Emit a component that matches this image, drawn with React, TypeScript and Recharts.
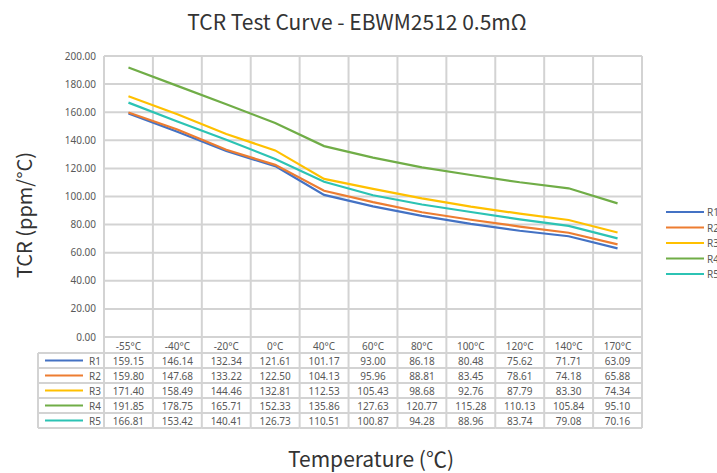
import React from "react";
import { LineChart, Line, XAxis, YAxis, CartesianGrid } from "recharts";

const categories = ["-55°C", "-40°C", "-20°C", "0°C", "40°C", "60°C", "80°C", "100°C", "120°C", "140°C", "170°C"];
const seriesNames = ["R1", "R2", "R3", "R4", "R5"];
const r1 = [159.15, 146.14, 132.34, 121.61, 101.17, 93.0, 86.18, 80.48, 75.62, 71.71, 63.09];
const r2 = [159.8, 147.68, 133.22, 122.5, 104.13, 95.96, 88.81, 83.45, 78.61, 74.18, 65.88];
const r3 = [171.4, 158.49, 144.46, 132.81, 112.53, 105.43, 98.68, 92.76, 87.79, 83.3, 74.34];
const r4 = [191.85, 178.75, 165.71, 152.33, 135.86, 127.63, 120.77, 115.28, 110.13, 105.84, 95.1];
const r5 = [166.81, 153.42, 140.41, 126.73, 110.51, 100.87, 94.28, 88.96, 83.74, 79.08, 70.16];
const seriesValues = [r1, r2, r3, r4, r5];
const yTicks = [0, 20, 40, 60, 80, 100, 120, 140, 160, 180, 200];

const colors = ["#4472C4", "#ED7D31", "#FFC000", "#70AD47", "#2CC3B4"];

const W = 717;
const H = 473;
const PLOT_L = 104;
const PLOT_R = 642;
const PLOT_T = 56;
const PLOT_B = 337;
const HEAD_H = 16;
const ROW_H = 15;
const TABLE_L = 38;
const TABLE_B = PLOT_B + HEAD_H + ROW_H * seriesNames.length;
const GRID = "#d3d3d3";
const TXT = "#595959";
const FONT = "'Noto Sans', sans-serif";
const TITLE_FONT = "'Noto Sans CJK SC', 'Noto Sans', sans-serif";

const data = categories.map((c, i) => {
  const row: Record<string, number | string> = { x: i + 0.5, cat: c };
  seriesNames.forEach((n, k) => (row[n] = seriesValues[k][i]));
  return row;
});
const xTicks = categories.map((_, i) => i).concat(categories.length);

// x-axis tick draws one column of the data table under the plot
function TableTick(props: any) {
  const { x, payload } = props;
  const i = payload.value as number;
  const colW = (PLOT_R - PLOT_L) / categories.length;
  const vline = <line x1={x} x2={x} y1={PLOT_B} y2={TABLE_B} stroke={GRID} strokeWidth={2} />;
  if (i >= categories.length) return <g>{vline}</g>;
  const cx = x + colW / 2;
  return (
    <g>
      {vline}
      <text x={cx} y={PLOT_B + HEAD_H / 2 + 0.5} textAnchor="middle" dominantBaseline="central" fontSize={10} fill={TXT} fontFamily={FONT}>
        {categories[i]}
      </text>
      {seriesValues.map((vals, k) => {
        const top = PLOT_B + HEAD_H + k * ROW_H;
        return (
          <g key={k}>
            <line x1={x} x2={x + colW} y1={top} y2={top} stroke={GRID} strokeWidth={2} />
            <text x={cx} y={top + ROW_H / 2} textAnchor="middle" dominantBaseline="central" fontSize={10} fill={TXT} fontFamily={FONT}>
              {vals[i].toFixed(2)}
            </text>
          </g>
        );
      })}
      <line x1={x} x2={x + colW} y1={TABLE_B} y2={TABLE_B} stroke={GRID} strokeWidth={2} />
    </g>
  );
}

export default function App() {
  return (
    <div style={{ position: "absolute", left: 0, top: 0, width: W, height: H, background: "#fff" }}>
      <LineChart
        width={W}
        height={H}
        data={data}
        margin={{ top: PLOT_T, right: W - PLOT_R, bottom: H - PLOT_B - 92, left: PLOT_L - 60 }}
      >
        <CartesianGrid stroke={GRID} strokeWidth={2} horizontal vertical />
        <XAxis
          type="number"
          dataKey="x"
          domain={[0, categories.length]}
          ticks={xTicks}
          interval={0}
          axisLine={false}
          tickLine={false}
          height={92}
          tick={<TableTick />}
        />
        <YAxis
          domain={[0, 200]}
          ticks={yTicks}
          width={60}
          axisLine={false}
          tickLine={false}
          tickMargin={2}
          tickFormatter={(v: number) => v.toFixed(2)}
          tick={{ fontSize: 10, fill: TXT, fontFamily: FONT }}
        />
        {seriesNames.map((n, k) => (
          <Line key={n} dataKey={n} type="linear" stroke={colors[k]} strokeWidth={2.2} dot={false} isAnimationActive={false} />
        ))}
      </LineChart>
      <svg width={W} height={H} style={{ position: "absolute", left: 0, top: 0, pointerEvents: "none" }}>
        <text x={357} y={20.5} textAnchor="middle" dominantBaseline="central" fontSize={21} fill="#333" fontFamily={TITLE_FONT}>
          TCR Test Curve - EBWM2512 0.5mΩ
        </text>
        <text
          x={23.5}
          y={215}
          textAnchor="middle"
          dominantBaseline="central"
          fontSize={20}
          fill="#333"
          fontFamily={TITLE_FONT}
          transform="rotate(-90 23.5 215)"
        >
          TCR (ppm/°C)
        </text>
        <text x={371} y={458} textAnchor="middle" dominantBaseline="central" fontSize={21} fill="#333" fontFamily={TITLE_FONT}>
          Temperature (℃)
        </text>
        {/* table key column */}
        <line x1={TABLE_L} x2={TABLE_L} y1={PLOT_B + HEAD_H} y2={TABLE_B} stroke={GRID} strokeWidth={2} />
        {seriesNames.map((n, k) => {
          const top = PLOT_B + HEAD_H + k * ROW_H;
          return (
            <g key={n}>
              <line x1={TABLE_L} x2={PLOT_L} y1={top} y2={top} stroke={GRID} strokeWidth={2} />
              <line x1={45} x2={83} y1={top + ROW_H / 2} y2={top + ROW_H / 2} stroke={colors[k]} strokeWidth={2} />
              <text x={101} y={top + ROW_H / 2} textAnchor="end" dominantBaseline="central" fontSize={10} fill={TXT} fontFamily={FONT}>
                {n}
              </text>
            </g>
          );
        })}
        <line x1={TABLE_L} x2={PLOT_L} y1={TABLE_B} y2={TABLE_B} stroke={GRID} strokeWidth={2} />
        {/* right legend */}
        {seriesNames.map((n, k) => {
          const y = 212 + k * 15.5;
          return (
            <g key={n}>
              <line x1={666} x2={704} y1={y} y2={y} stroke={colors[k]} strokeWidth={2} />
              <text x={707} y={y} dominantBaseline="central" fontSize={10} fill={TXT} fontFamily={FONT}>
                {n}
              </text>
            </g>
          );
        })}
      </svg>
    </div>
  );
}
